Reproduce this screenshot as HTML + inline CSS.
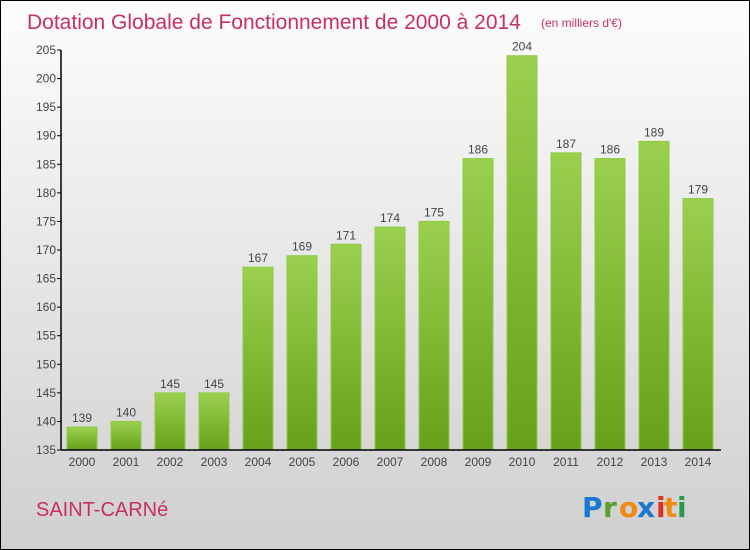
<!DOCTYPE html>
<html><head><meta charset="utf-8"><style>
html,body{margin:0;padding:0}
body{width:750px;height:550px;overflow:hidden;font-family:"Liberation Sans",sans-serif}
#frame{position:absolute;left:0;top:0;width:748px;height:548px;border:1px solid #000;background:linear-gradient(#fdfdfd,#cfcfcf)}
</style></head><body>
<div id="frame">
<svg id="chart" width="750" height="550" style="position:absolute;left:-1px;top:-1px">
<defs><linearGradient id="g" x1="0" y1="0" x2="0" y2="1"><stop offset="0" stop-color="#9bd04e"/><stop offset="1" stop-color="#67a01a"/></linearGradient></defs>
<text x="27" y="29" font-size="21" fill="#c8305f">Dotation Globale de Fonctionnement de 2000 à 2014</text>
<text x="541" y="27" font-size="12" fill="#c8305f">(en milliers d'€)</text>
<text x="36" y="516" font-size="20" fill="#c8305f">SAINT-CARNé</text>
<g font-size="28" font-weight="bold" font-family="'DejaVu Sans',sans-serif">
<text x="582" y="517" fill="#1a78d0">P</text><text x="603" y="517" fill="#5aa02c">r</text><text x="619" y="517" fill="#f08a10">o</text><text x="637" y="517" fill="#1a78d0">x</text><text x="656" y="517" fill="#e03020">i</text><text x="664" y="517" fill="#f08a10">t</text><text x="677" y="517" fill="#2a9a4a">i</text>
</g>
<g id="bars"></g><g id="axes"></g>
</svg></div>
<script>
const years=["2000","2001","2002","2003","2004","2005","2006","2007","2008","2009","2010","2011","2012","2013","2014"];
const values=[139,140,145,145,167,169,171,174,175,186,204,187,186,189,179];
const yTicks=[135,140,145,150,155,160,165,170,175,180,185,190,195,200,205];
{
const NS="http://www.w3.org/2000/svg";
const yMin=135,yMax=205,plotTop=50,plotBot=450,plotLeft=61;
function ys(v){return plotBot-(v-yMin)/(yMax-yMin)*(plotBot-plotTop);}
function xs(i){return 82+i*44;}
function mk(t,a,p){const e=document.createElementNS(NS,t);for(const k in a)e.setAttribute(k,a[k]);p.appendChild(e);return e;}
const bars=document.getElementById('bars'),axes=document.getElementById('axes');
values.forEach((v,i)=>{
 const r=mk('rect',{x:xs(i)-15,y:ys(v),width:30,height:plotBot-ys(v),fill:'url(#g)',stroke:'#8ccc44','stroke-width':1},bars);
 
 
 const t=mk('text',{x:xs(i),y:ys(v)-5,'text-anchor':'middle','font-size':12,fill:'#444'},bars);t.textContent=v;
 
 
 const xl=mk('text',{x:xs(i),y:466,'text-anchor':'middle','font-size':12,fill:'#444'},axes);xl.textContent=years[i];
 
 
});
yTicks.forEach(v=>{
 mk('line',{x1:plotLeft-4,x2:plotLeft,y1:ys(v),y2:ys(v),stroke:'#000'},axes);
 const t=mk('text',{x:plotLeft-5,y:ys(v)+4,'text-anchor':'end','font-size':12,fill:'#444'},axes);t.textContent=v;
 
 
});
const ya=mk('line',{x1:plotLeft,x2:plotLeft,y1:plotTop,y2:plotBot,stroke:'#000','stroke-width':1.5},axes);


const xa=mk('line',{x1:plotLeft,x2:721,y1:plotBot,y2:plotBot,stroke:'#000','stroke-width':1.5},axes);


}
</script>
</body></html>
